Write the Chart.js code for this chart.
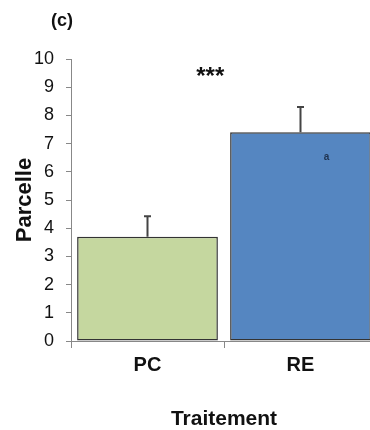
<!DOCTYPE html>
<html>
<head>
<meta charset="utf-8">
<script src="https://cdn.jsdelivr.net/npm/chart.js@4"></script>
<style>
  html, body { margin: 0; padding: 0; background: #fff; overflow: hidden; }
  #wrap { width: 395px; height: 430px; }
</style>
</head>
<body>
<div id="wrap"><canvas id="chart" width="395" height="430"></canvas></div>
<script>
const categories = ['PC', 'RE'];
const means = [3.7, 7.4];
const errors = [0.72, 0.9];
const barColors = ['#c5d79f', '#5586c1'];
const yTicks = [0, 1, 2, 3, 4, 5, 6, 7, 8, 9, 10];
const significance = '***';
const significanceValue = 9.35;
const groupLetters = ['', 'a'];
const letterValue = 6.5;

const FONT = '"Liberation Sans", Arial, sans-serif';

// error bars, stars and letters drawn on top of the bars
const annotations = {
  id: 'annotations',
  afterDatasetsDraw(chart) {
    const ctx = chart.ctx;
    const x = chart.scales.x;
    const y = chart.scales.y;
    const meta = chart.getDatasetMeta(0);

    ctx.save();
    ctx.strokeStyle = '#444';
    ctx.lineWidth = 2;
    meta.data.forEach((bar, i) => {
      const yTop = y.getPixelForValue(means[i] + errors[i]);
      const yBase = y.getPixelForValue(means[i]);
      ctx.beginPath();
      ctx.moveTo(bar.x, yBase);
      ctx.lineTo(bar.x, yTop);
      ctx.moveTo(bar.x - 3.5, yTop);
      ctx.lineTo(bar.x + 3.5, yTop);
      ctx.stroke();
    });

    ctx.fillStyle = '#111';
    ctx.textAlign = 'center';
    ctx.textBaseline = 'middle';
    ctx.font = 'bold 24px ' + FONT;
    ctx.fillText(significance, x.getPixelForValue(0.41), y.getPixelForValue(significanceValue));

    ctx.font = 'bold 10px ' + FONT;
    ctx.fillStyle = '#1f3350';
    groupLetters.forEach((l, i) => {
      if (!l) return;
      ctx.fillText(l, x.getPixelForValue(i + 0.17), y.getPixelForValue(letterValue));
    });

    ctx.fillStyle = '#111';
    ctx.font = 'bold 18px ' + FONT;
    ctx.fillText('(c)', 62, 21);
    ctx.restore();
  }
};

new Chart(document.getElementById('chart'), {
  type: 'bar',
  data: {
    labels: categories,
    datasets: [{
      data: means,
      backgroundColor: barColors,
      borderColor: '#333',
      borderWidth: 1.5,
      borderSkipped: false,
      barPercentage: 0.92,
      categoryPercentage: 1
    }]
  },
  options: {
    responsive: false,
    animation: false,
    layout: { padding: { left: 14, right: 18, top: 59, bottom: 0 } },
    plugins: {
      legend: { display: false },
      tooltip: { enabled: false }
    },
    scales: {
      x: {
        offset: true,
        grid: { offset: true, drawOnChartArea: false, tickLength: 7, color: '#888' },
        border: { color: '#888' },
        ticks: { color: '#111', padding: 5, font: { family: FONT, size: 20, weight: 'bold' } },
        title: {
          display: true,
          text: 'Traitement',
          color: '#111',
          padding: { top: 27, bottom: 0 },
          font: { family: FONT, size: 21, weight: 'bold', lineHeight: 1 }
        }
      },
      y: {
        min: 0,
        max: 10,
        afterBuildTicks: axis => { axis.ticks = yTicks.map(v => ({ value: v })); },
        afterFit: axis => { axis.width = 57; },
        grid: { drawOnChartArea: false, tickLength: 5, color: '#888' },
        border: { color: '#888' },
        ticks: { color: '#111', padding: 12, font: { family: FONT, size: 18 } },
        title: {
          display: true,
          text: 'Parcelle',
          color: '#111',
          padding: { top: 0, bottom: 0 },
          font: { family: FONT, size: 22, weight: 'bold', lineHeight: 1 }
        }
      }
    }
  },
  plugins: [annotations]
});
</script>
</body>
</html>
